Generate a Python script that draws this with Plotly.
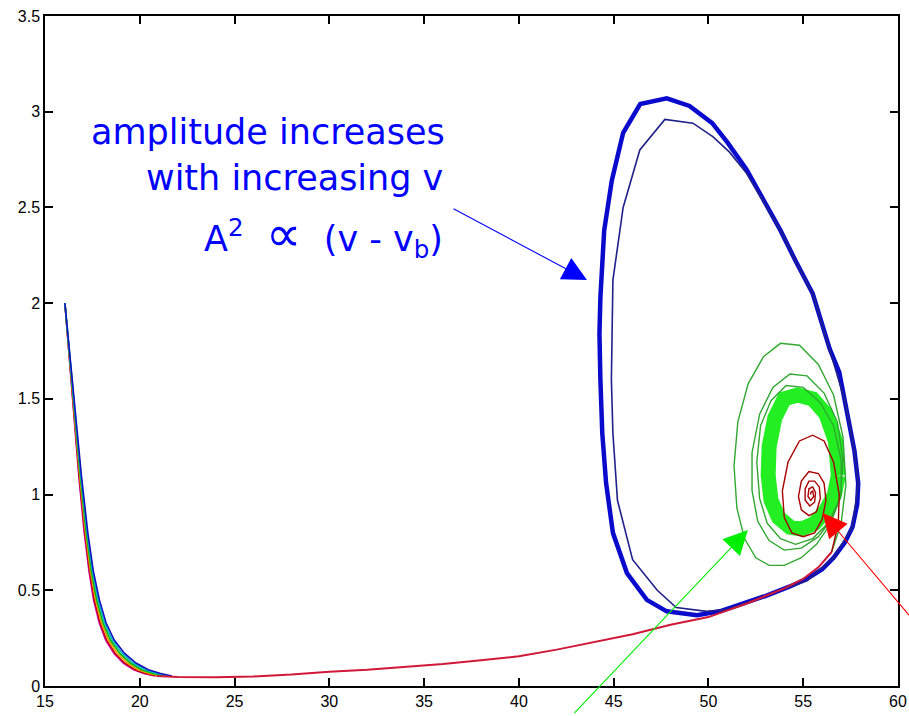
import plotly.graph_objects as go

# ---- phase-plane trajectories (x: v-like variable, y: slow variable) ----

# initial fast decay, one curve per parameter value
decay_y = [2.0, 1.7, 1.4, 1.1, 0.8, 0.6, 0.45, 0.33, 0.24, 0.17, 0.12, 0.085, 0.065, 0.052]
decay_x_magenta = [16.05, 16.29, 16.53, 16.78, 17.07, 17.32, 17.56, 17.86, 18.2, 18.64, 19.13, 19.68, 20.22, 20.8]
decay_x_red = [16.05, 16.3, 16.55, 16.8, 17.1, 17.35, 17.6, 17.9, 18.25, 18.7, 19.2, 19.75, 20.3, 20.9]
decay_x_orange = [16.05, 16.31, 16.57, 16.83, 17.14, 17.4, 17.67, 17.98, 18.35, 18.82, 19.35, 19.92, 20.5, 21.1]
decay_x_green = [16.05, 16.32, 16.59, 16.86, 17.18, 17.45, 17.73, 18.06, 18.45, 18.95, 19.5, 20.1, 20.7, 21.3]
decay_x_cyan = [16.05, 16.33, 16.61, 16.89, 17.22, 17.5, 17.8, 18.14, 18.55, 19.08, 19.65, 20.28, 20.9, 21.5]
decay_x_blue = [16.05, 16.34, 16.63, 16.92, 17.26, 17.55, 17.87, 18.22, 18.65, 19.2, 19.8, 20.45, 21.1, 21.7]

# slow manifold shared by all trajectories
slow_x = [20.9, 22, 24, 26, 28, 30, 32, 34, 36, 38, 40, 42, 44, 46, 48, 50, 51, 52, 53, 54, 55, 55.8, 56.5]
slow_y = [0.052, 0.047, 0.046, 0.05, 0.06, 0.075, 0.085, 0.1, 0.115, 0.135, 0.155, 0.19, 0.23, 0.27,
          0.32, 0.36, 0.395, 0.43, 0.47, 0.51, 0.56, 0.62, 0.70]

# large limit cycle (blue)
cycle_x = [50.6, 51.5, 53.0, 54.3, 55.2, 56.0, 56.6, 57.2, 57.6, 57.85, 57.9, 57.7, 57.2, 56.9, 56.4,
           55.5, 54.6, 53.8, 52.9, 52.0, 51.0, 50.2, 49.0, 47.8, 46.4, 45.5, 44.9, 44.5, 44.3, 44.25,
           44.3, 44.4, 44.6, 44.96, 45.7, 46.75, 47.8, 49.4, 50.6]
cycle_y = [0.39, 0.42, 0.47, 0.52, 0.56, 0.61, 0.67, 0.75, 0.83, 0.95, 1.06, 1.23, 1.49, 1.64, 1.76,
           2.05, 2.22, 2.38, 2.54, 2.70, 2.84, 2.94, 3.03, 3.07, 3.04, 2.89, 2.64, 2.38, 2.03, 1.84,
           1.6, 1.32, 1.06, 0.80, 0.59, 0.45, 0.39, 0.37, 0.39]

# first (transient) loop of the blue trajectory
first_x = [51.0, 53.0, 55.2, 56.6, 57.6, 57.9, 57.7, 57.2, 56.4, 55.5, 54.6, 53.8, 52.9, 52.0, 51.1,
           50.23, 49.18, 47.7, 46.38, 45.5, 44.96, 44.9, 44.88, 44.96, 45.2, 46.0, 47.3, 48.3, 49.9, 51.0]
first_y = [0.40, 0.47, 0.55, 0.67, 0.83, 1.06, 1.23, 1.49, 1.76, 2.05, 2.22, 2.38, 2.53, 2.68, 2.79,
           2.87, 2.94, 2.96, 2.80, 2.50, 2.12, 1.84, 1.60, 1.32, 0.97, 0.66, 0.50, 0.41, 0.39, 0.40]

# small-amplitude oscillation (green): spiral onto a small cycle
gspiral_x = [56.5, 57.0, 57.25, 57.1, 56.6, 55.8, 54.8, 53.8, 52.9, 52.1, 51.55, 51.35, 51.5, 51.9,
             52.5, 53.2, 54.0, 54.9, 55.7, 56.4, 56.95, 57.1, 56.8, 56.1, 55.2, 54.3, 53.4, 52.7,
             52.3, 52.3, 52.6, 53.2, 54.0, 54.9, 55.8, 56.5, 57.0, 57.0, 56.6, 55.9, 55.0, 54.1,
             53.3, 52.75, 52.55, 52.7, 53.1, 53.8, 54.6, 55.5, 56.3, 56.9]
gspiral_y = [0.70, 0.85, 1.05, 1.3, 1.52, 1.68, 1.78, 1.79, 1.72, 1.58, 1.38, 1.15, 0.93, 0.77,
             0.67, 0.63, 0.63, 0.67, 0.74, 0.84, 0.98, 1.18, 1.38, 1.53, 1.62, 1.63, 1.56, 1.42,
             1.22, 1.02, 0.86, 0.76, 0.71, 0.72, 0.78, 0.87, 1.0, 1.18, 1.36, 1.48, 1.56, 1.57,
             1.49, 1.36, 1.17, 0.98, 0.85, 0.77, 0.74, 0.77, 0.85, 0.97]
gcycle_x = [56.85, 56.7, 56.2, 55.5, 54.7, 54.0, 53.5, 53.2, 53.15, 53.3, 53.7, 54.3, 54.9, 55.6,
            56.2, 56.65, 56.85]
gcycle_y = [1.10, 1.28, 1.42, 1.50, 1.52, 1.50, 1.40, 1.25, 1.10, 0.97, 0.88, 0.83, 0.82, 0.85,
            0.92, 1.0, 1.10]

# damped oscillation (red): spiral into the stable fixed point
rspiral_x = [56.5, 56.85, 56.9, 56.6, 56.1, 55.5, 54.8, 54.2, 53.9, 54.0, 54.4, 55.0, 55.6, 56.0,
             56.2, 56.1, 55.8, 55.3, 54.9, 54.75, 54.9, 55.3, 55.7, 55.9, 55.85, 55.6, 55.3, 55.1,
             55.1, 55.35, 55.6, 55.65, 55.5, 55.3, 55.25, 55.4, 55.55, 55.5, 55.4, 55.38]
rspiral_y = [0.70, 0.85, 1.0, 1.17, 1.28, 1.31, 1.28, 1.17, 1.02, 0.88, 0.80, 0.78, 0.80, 0.87,
             0.97, 1.06, 1.11, 1.12, 1.07, 0.99, 0.92, 0.89, 0.91, 0.98, 1.04, 1.07, 1.07, 1.03,
             0.97, 0.94, 0.96, 1.01, 1.04, 1.03, 0.99, 0.97, 0.99, 1.02, 1.01, 1.0]

# annotation arrows: (head x, head y, tail x, tail y)
blue_arrow = (43.59, 2.121, 36.47, 2.497)
green_arrow = (52.08, 0.815, 42.85, -0.15)
red_arrow = (56.03, 0.904, 60.89, 0.334)

x_ticks = [15, 20, 25, 30, 35, 40, 45, 50, 55, 60]
y_ticks = [0, 0.5, 1, 1.5, 2, 2.5, 3, 3.5]
y_tick_text = ["0", "0.5", "1", "1.5", "2", "2.5", "3", "3.5"]

fig = go.Figure()


def line(x, y, color, width):
    fig.add_trace(go.Scatter(x=x, y=y, mode="lines", showlegend=False, hoverinfo="skip",
                             line=dict(color=color, width=width)))


for xs, col in [(decay_x_magenta, "#cc00cc"), (decay_x_red, "#d00000"),
                (decay_x_orange, "#e0a000"), (decay_x_green, "#00b800"),
                (decay_x_cyan, "#00b8c0"), (decay_x_blue, "#1010c0")]:
    line(xs, decay_y, col, 1.6)

line(cycle_x, cycle_y, "#0a0acc", 4.5)
line(first_x, first_y, "#20208a", 1.6)
line(gcycle_x, gcycle_y, "#22ee22", 15)
line(gspiral_x, gspiral_y, "#30a830", 1.4)
line(slow_x, slow_y, "#d01838", 2)
line(rspiral_x, rspiral_y, "#a80000", 1.4)

txt_font = dict(family="DejaVu Sans", size=35, color="#0000ff")
fig.add_annotation(x=36.2, y=2.896, xref="x", yref="y", text="amplitude increases",
                   showarrow=False, xanchor="right", yanchor="middle", font=txt_font)
fig.add_annotation(x=36.1, y=2.652, xref="x", yref="y", text="with increasing v",
                   showarrow=False, xanchor="right", yanchor="middle", font=txt_font)
fig.add_annotation(x=36.1, y=2.357, xref="x", yref="y",
                   text="A<sup>2</sup>\u00a0\u00a0<span style='font-size:50px'>\u221d</span>\u00a0\u00a0(v - v<sub>b</sub>)",
                   showarrow=False, xanchor="right", yanchor="middle", font=txt_font)

for (hx, hy, tx, ty), col in [(blue_arrow, "#0000ff"), (green_arrow, "#00ee00"), (red_arrow, "#ff0000")]:
    fig.add_annotation(x=hx, y=hy, ax=tx, ay=ty, xref="x", yref="y", axref="x", ayref="y",
                       text="", showarrow=True, arrowhead=2, arrowsize=4.4, arrowwidth=1.1,
                       arrowcolor=col, standoff=0, startstandoff=0)

axis_common = dict(showgrid=False, zeroline=False, showline=True, linecolor="#000000", linewidth=1.5,
                   mirror="ticks", ticks="inside", ticklen=8, tickwidth=1.5, tickcolor="#000000",
                   automargin=False,
                   tickfont=dict(family="Liberation Sans", size=16, color="#000000"))
fig.update_xaxes(range=[15, 60], tickvals=x_ticks, **axis_common)
fig.update_yaxes(range=[0, 3.5], tickvals=y_ticks, ticktext=y_tick_text, **axis_common)

fig.update_layout(width=909, height=716, margin=dict(l=45, r=11, t=16, b=30),
                  paper_bgcolor="white", plot_bgcolor="white")

fig.write_html("out.html")
